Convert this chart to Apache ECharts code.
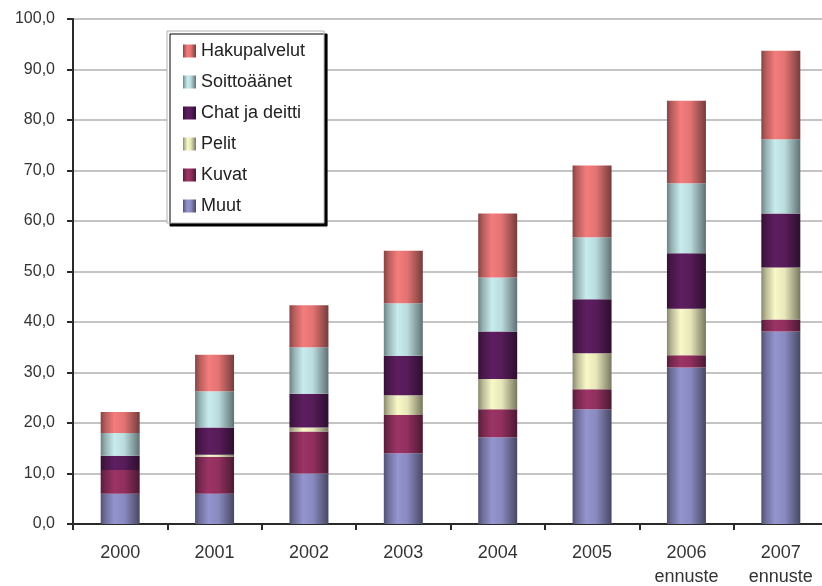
<!DOCTYPE html>
<html>
<head>
<meta charset="utf-8">
<script src="https://cdn.jsdelivr.net/npm/echarts@6/dist/echarts.min.js"></script>
<style>
html,body{margin:0;padding:0;background:#fff;}
#chart{width:822px;height:586px;}
</style>
</head>
<body>
<div id="chart"></div>
<script>
var categories = ['2000', '2001', '2002', '2003', '2004', '2005', '2006\nennuste', '2007\nennuste'];
var muut        = [6.0, 6.0, 10.0, 14.0, 17.2, 22.7, 31.0, 38.1];
var kuvat       = [4.7, 7.3, 8.3, 7.6, 5.5, 4.0, 2.4, 2.4];
var pelit       = [0.0, 0.4, 0.8, 3.9, 6.0, 7.1, 9.2, 10.3];
var chat        = [2.8, 5.4, 6.7, 7.8, 9.4, 10.7, 11.0, 10.7];
var soittoaanet = [4.5, 7.2, 9.2, 10.4, 10.7, 12.3, 13.9, 14.7];
var hakupalvelut= [4.2, 7.2, 8.3, 10.4, 12.7, 14.2, 16.3, 17.5];
var legendOrder = ['Hakupalvelut', 'Soittoäänet', 'Chat ja deitti', 'Pelit', 'Kuvat', 'Muut'];

function hexToRgb(h){h=h.replace('#','');return [parseInt(h.substr(0,2),16),parseInt(h.substr(2,2),16),parseInt(h.substr(4,2),16)];}
function shade(h,f){var c=hexToRgb(h);return 'rgb('+c.map(function(v){return Math.max(0,Math.min(255,Math.round(v*f)));}).join(',')+')';}
function cyl(base){
  return new echarts.graphic.LinearGradient(0,0,1,0,[
    {offset:0, color:shade(base,0.55)},
    {offset:0.12, color:shade(base,0.75)},
    {offset:0.35, color:shade(base,1.0)},
    {offset:0.6, color:shade(base,0.93)},
    {offset:0.88, color:shade(base,0.62)},
    {offset:1, color:shade(base,0.48)}
  ]);
}
var colors = {
  'Muut':'#9494cf',
  'Kuvat':'#9c3466',
  'Pelit':'#f8f8c8',
  'Chat ja deitti':'#5e1e60',
  'Soittoäänet':'#c8ecee',
  'Hakupalvelut':'#f47c7c'
};
var seriesDefs = [
  ['Muut', muut], ['Kuvat', kuvat], ['Pelit', pelit],
  ['Chat ja deitti', chat], ['Soittoäänet', soittoaanet], ['Hakupalvelut', hakupalvelut]
];
var font = '"Liberation Sans", Arial, sans-serif';
var chart = echarts.init(document.getElementById('chart'), null, {renderer:'canvas'});
chart.setOption({
  animation:false,
  backgroundColor:'#ffffff',
  grid:{left:73, top:19, width:755, height:505, containLabel:false, outerBoundsMode:'none'},
  legend:{
    data:legendOrder,
    orient:'vertical',
    left:167, top:31,
    backgroundColor:'#ffffff',
    borderColor:'#b0b0b0', borderWidth:1,
    shadowColor:'#000000', shadowOffsetX:3, shadowOffsetY:3, shadowBlur:0,
    padding:[11,19,8,16],
    itemWidth:13, itemHeight:13, itemGap:13,
    icon:'rect',
    textStyle:{fontFamily:font, fontSize:18, color:'#222', lineHeight:18}
  },
  xAxis:{
    type:'category', data:categories,
    axisLine:{lineStyle:{color:'#2a2a2a', width:2}},
    axisTick:{show:true, length:6, lineStyle:{color:'#2a2a2a', width:2}},
    axisLabel:{fontFamily:font, fontSize:18, color:'#333', margin:17, lineHeight:24}
  },
  yAxis:{
    type:'value', min:0, max:100, interval:10,
    axisLine:{show:true, lineStyle:{color:'#2a2a2a', width:2}},
    axisTick:{show:true, length:6, lineStyle:{color:'#2a2a2a', width:2}},
    splitLine:{lineStyle:{color:'#c4c4c4', width:2}},
    axisLabel:{fontFamily:font, fontSize:16, color:'#333', margin:18,
      formatter:function(v){return v.toFixed(1).replace('.',',');}}
  },
  series: seriesDefs.map(function(s){
    return {
      name:s[0], type:'bar', stack:'total', data:s[1], barWidth:39,
      itemStyle:{color:cyl(colors[s[0]])},
      emphasis:{disabled:true}
    };
  })
});
</script>
</body>
</html>
